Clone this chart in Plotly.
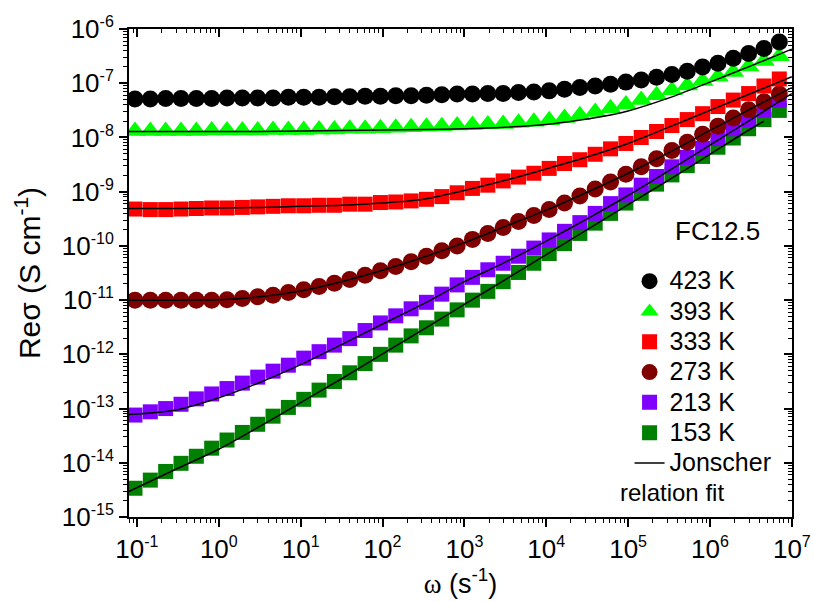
import plotly.graph_objects as go

# angular frequency (s^-1) of the measured points
omega = [0.0946, 0.1457, 0.2243, 0.3453, 0.5317, 0.8185, 1.260, 1.940, 2.987, 4.599,
         7.079, 10.90, 16.78, 25.84, 39.78, 61.24, 94.28, 145.1, 223.5, 344.0,
         529.7, 815.4, 1255, 1933, 2976, 4581, 7053, 10860, 16720, 25740,
         39630, 61010, 93930, 144600, 222600, 342800, 527700, 812400, 1251000, 1926000,
         2965000, 4565000, 7028000]

sig_423 = [5.13e-8, 5.13e-8, 5.25e-8, 5.25e-8, 5.25e-8, 5.25e-8, 5.37e-8, 5.37e-8, 5.37e-8, 5.37e-8,
           5.50e-8, 5.50e-8, 5.50e-8, 5.62e-8, 5.62e-8, 5.75e-8, 5.75e-8, 5.89e-8, 5.89e-8, 6.03e-8,
           6.17e-8, 6.31e-8, 6.31e-8, 6.46e-8, 6.46e-8, 6.76e-8, 6.92e-8, 7.24e-8, 7.76e-8, 8.32e-8,
           8.91e-8, 9.55e-8, 1.05e-7, 1.15e-7, 1.29e-7, 1.45e-7, 1.66e-7, 2.00e-7, 2.34e-7, 2.88e-7,
           3.55e-7, 4.37e-7, 5.75e-7]

sig_393 = [1.32e-8, 1.32e-8, 1.32e-8, 1.32e-8, 1.32e-8, 1.35e-8, 1.35e-8, 1.35e-8, 1.35e-8, 1.38e-8,
           1.38e-8, 1.38e-8, 1.41e-8, 1.41e-8, 1.45e-8, 1.45e-8, 1.48e-8, 1.51e-8, 1.55e-8, 1.58e-8,
           1.62e-8, 1.66e-8, 1.70e-8, 1.74e-8, 1.78e-8, 1.86e-8, 1.95e-8, 2.09e-8, 2.29e-8, 2.57e-8,
           2.95e-8, 3.47e-8, 4.07e-8, 4.90e-8, 6.03e-8, 7.41e-8, 9.12e-8, 1.10e-7, 1.32e-7, 1.62e-7,
           2.04e-7, 2.57e-7, 3.16e-7]

sig_333 = [4.79e-10, 4.68e-10, 4.68e-10, 4.79e-10, 4.90e-10, 5.01e-10, 5.01e-10, 5.13e-10, 5.25e-10, 5.37e-10,
           5.50e-10, 5.50e-10, 5.62e-10, 5.62e-10, 5.89e-10, 5.89e-10, 6.31e-10, 6.46e-10, 6.76e-10, 7.24e-10,
           8.13e-10, 9.55e-10, 1.15e-9, 1.32e-9, 1.58e-9, 1.86e-9, 2.19e-9, 2.69e-9, 3.31e-9, 3.89e-9,
           4.90e-9, 6.17e-9, 7.76e-9, 1.00e-8, 1.29e-8, 1.66e-8, 2.14e-8, 2.75e-8, 3.72e-8, 4.90e-8,
           6.46e-8, 8.91e-8, 1.20e-7]

sig_273 = [1.00e-11, 1.00e-11, 1.00e-11, 1.00e-11, 1.00e-11, 1.00e-11, 1.02e-11, 1.07e-11, 1.15e-11, 1.23e-11,
           1.38e-11, 1.55e-11, 1.78e-11, 2.04e-11, 2.40e-11, 2.88e-11, 3.47e-11, 4.17e-11, 5.13e-11, 6.46e-11,
           8.13e-11, 1.00e-10, 1.32e-10, 1.70e-10, 2.19e-10, 2.82e-10, 3.63e-10, 4.68e-10, 6.17e-10, 8.32e-10,
           1.12e-9, 1.51e-9, 2.09e-9, 2.88e-9, 4.07e-9, 5.75e-9, 8.13e-9, 1.15e-8, 1.62e-8, 2.29e-8,
           3.24e-8, 4.57e-8, 6.31e-8]

sig_213 = [7.59e-14, 8.71e-14, 1.00e-13, 1.20e-13, 1.51e-13, 1.86e-13, 2.34e-13, 2.95e-13, 3.80e-13, 4.90e-13,
           6.31e-13, 8.51e-13, 1.12e-12, 1.48e-12, 1.95e-12, 2.75e-12, 3.80e-12, 5.13e-12, 6.92e-12, 9.12e-12,
           1.29e-11, 1.91e-11, 2.63e-11, 3.63e-11, 4.79e-11, 6.46e-11, 9.12e-11, 1.29e-10, 1.86e-10, 2.69e-10,
           3.98e-10, 6.03e-10, 8.71e-10, 1.32e-9, 1.91e-9, 2.88e-9, 4.27e-9, 6.31e-9, 9.55e-9, 1.45e-8,
           2.14e-8, 3.24e-8, 4.90e-8]

sig_153 = [3.39e-15, 4.79e-15, 6.92e-15, 9.77e-15, 1.32e-14, 1.86e-14, 2.63e-14, 3.63e-14, 5.13e-14, 7.24e-14,
           1.05e-13, 1.48e-13, 2.19e-13, 3.16e-13, 4.57e-13, 6.76e-13, 1.00e-12, 1.48e-12, 2.19e-12, 3.09e-12,
           4.47e-12, 6.61e-12, 1.00e-11, 1.45e-11, 2.19e-11, 3.24e-11, 4.79e-11, 7.24e-11, 1.10e-10, 1.70e-10,
           2.63e-10, 3.98e-10, 6.17e-10, 9.33e-10, 1.38e-9, 2.04e-9, 3.02e-9, 4.47e-9, 6.61e-9, 9.77e-9,
           1.45e-8, 2.14e-8, 3.16e-8]

# Jonscher relation fit curves, read at half-decade steps
fit_omega = [0.0794, 0.316, 1, 3.16, 10, 31.6, 100, 316, 1000, 3162,
             1e4, 3.16e4, 1e5, 3.16e5, 1e6, 3.16e6, 1e7]
fit_omega_153 = [0.0794, 0.316, 1, 3.16, 10, 31.6, 100, 316, 1000, 3162,
                 1e4, 3.16e4, 1e5, 3.16e5, 1e6, 3.16e6, 4.57e6]
fit_393 = [1.29e-8, 1.29e-8, 1.29e-8, 1.29e-8, 1.32e-8, 1.35e-8, 1.38e-8, 1.41e-8, 1.45e-8, 1.55e-8,
           1.74e-8, 2.19e-8, 3.09e-8, 5.37e-8, 1.05e-7, 2.09e-7, 4.27e-7]
fit_333 = [4.90e-10, 4.90e-10, 5.01e-10, 5.13e-10, 5.37e-10, 5.62e-10, 6.17e-10, 7.24e-10, 1.05e-9, 1.62e-9,
           2.63e-9, 4.37e-9, 7.76e-9, 1.55e-8, 3.16e-8, 6.46e-8, 1.32e-7]
fit_273 = [1.00e-11, 1.00e-11, 1.02e-11, 1.15e-11, 1.48e-11, 2.19e-11, 3.55e-11, 6.17e-11, 1.15e-10, 2.29e-10,
           4.57e-10, 9.77e-10, 2.19e-9, 5.25e-9, 1.35e-8, 3.39e-8, 8.32e-8]
fit_213 = [7.76e-14, 9.55e-14, 1.58e-13, 3.02e-13, 6.46e-13, 1.51e-12, 3.63e-12, 8.51e-12, 2.19e-11, 5.01e-11,
           1.23e-10, 3.16e-10, 8.51e-10, 2.45e-9, 7.24e-9, 2.14e-8, 6.46e-8]
fit_153 = [2.95e-15, 7.94e-15, 1.78e-14, 4.68e-14, 1.29e-13, 3.55e-13, 1.02e-12, 2.88e-12, 8.32e-12, 2.40e-11,
           6.92e-11, 2.00e-10, 5.75e-10, 1.66e-9, 4.90e-9, 1.45e-8, 2.00e-8]

labels = ["423 K", "393 K", "333 K", "273 K", "213 K", "153 K"]
colors = ["#000000", "#00FF00", "#FF0000", "#800000", "#8000FF", "#008000"]
symbols = ["circle", "triangle-up", "square", "circle", "square", "square"]
sizes = [17, 19, 15, 17, 15, 15]
series = [sig_423, sig_393, sig_333, sig_273, sig_213, sig_153]

x_tick_vals = [1e-1, 1e0, 1e1, 1e2, 1e3, 1e4, 1e5, 1e6, 1e7]
x_tick_exps = ["-1", "0", "1", "2", "3", "4", "5", "6", "7"]
y_tick_vals = [1e-15, 1e-14, 1e-13, 1e-12, 1e-11, 1e-10, 1e-9, 1e-8, 1e-7, 1e-6]
y_tick_exps = ["-15", "-14", "-13", "-12", "-11", "-10", "-9", "-8", "-7", "-6"]


def pow_label(e):
    return "10<sup><span style='font-size:16px'>" + e + "</span></sup>"


FONT = "Liberation Sans, Arial, sans-serif"
fig = go.Figure()

# draw coldest first so hotter data sits on top
for i in reversed(range(6)):
    fig.add_trace(go.Scatter(
        x=omega, y=series[i], mode="markers",
        name="<span style='font-size:25px'>" + labels[i] + "</span>", legendrank=i + 1,
        marker=dict(symbol=symbols[i], size=sizes[i], color=colors[i], line=dict(width=0)),
    ))

for fx, fy in [(fit_omega, fit_393), (fit_omega, fit_333), (fit_omega, fit_273),
               (fit_omega, fit_213), (fit_omega_153, fit_153)]:
    fig.add_trace(go.Scatter(x=fx, y=fy, mode="lines", showlegend=False,
                             line=dict(color="black", width=1.5, shape="spline", smoothing=0.8)))

fig.add_trace(go.Scatter(x=[None], y=[None], mode="lines",
                         name="<span style='font-size:25px'>Jonscher</span>", legendrank=7,
                         line=dict(color="black", width=1.5)))

# invisible trace to bring up the mirrored (inward-tick) top/right axes
fig.add_trace(go.Scatter(x=[None], y=[None], xaxis="x2", yaxis="y2", showlegend=False, hoverinfo="skip"))

xr = [-1.097, 7.002]
yr = [-15.0, -5.999]
common = dict(type="log", showgrid=False, zeroline=False, linecolor="black", linewidth=2,
              tickcolor="black", tickwidth=1.5, automargin=False)
minor_out = dict(ticks="outside", ticklen=4, dtick="D1", tickcolor="black", tickwidth=1.2)
minor_in = dict(ticks="inside", ticklen=4, dtick="D1", tickcolor="black", tickwidth=1.2)

fig.update_layout(
    width=814, height=602,
    margin=dict(l=129, r=22, t=29, b=85, autoexpand=False),
    paper_bgcolor="white", plot_bgcolor="white",
    font=dict(family=FONT, color="black"),
    xaxis=dict(**common, range=xr, tickmode="array", tickvals=x_tick_vals,
               ticktext=[pow_label(e) for e in x_tick_exps],
               ticks="outside", ticklen=8, tickfont=dict(size=26), minor=minor_out,
               title=dict(text="<span style='font-family:Liberation Serif'>ω</span> (s<sup>-1</sup>)",
                          font=dict(size=27), standoff=0)),
    yaxis=dict(**common, range=yr, tickmode="array", tickvals=y_tick_vals,
               ticktext=[pow_label(e) for e in y_tick_exps],
               ticks="outside", ticklen=8, tickfont=dict(size=26), minor=minor_out,
               title=dict(text="Reσ (S cm<sup>-1</sup>)", font=dict(size=30), standoff=12)),
    xaxis2=dict(**common, range=xr, overlaying="x", side="top", tickmode="array", tickvals=x_tick_vals,
                ticks="inside", ticklen=8, showticklabels=False, minor=minor_in),
    yaxis2=dict(**common, range=yr, overlaying="y", side="right", tickmode="array", tickvals=y_tick_vals,
                ticks="inside", ticklen=8, showticklabels=False, minor=minor_in),
    legend=dict(x=0.755, y=0.5246, xanchor="left", yanchor="top", bgcolor="rgba(0,0,0,0)",
                font=dict(size=21), tracegroupgap=0),
    annotations=[
        dict(text="FC12.5", x=0.887, y=0.586, xref="paper", yref="paper", showarrow=False,
             xanchor="center", yanchor="middle", font=dict(size=26)),
        dict(text="relation fit", x=0.7376, y=0.051, xref="paper", yref="paper", showarrow=False,
             xanchor="left", yanchor="middle", font=dict(size=24)),
    ],
)

fig.write_html("out.html", config={"displayModeBar": False},
               post_script="document.body.style.margin='0px';")
